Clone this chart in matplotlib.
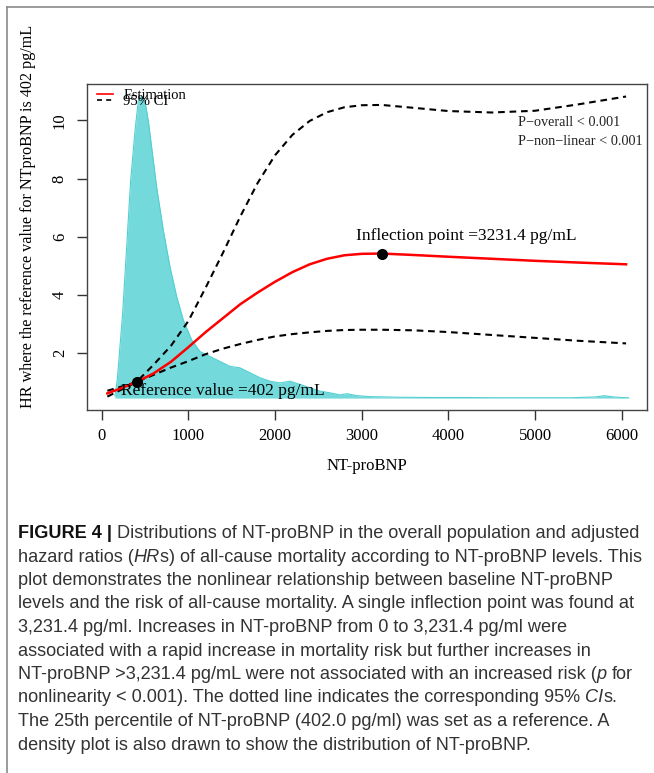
import matplotlib
matplotlib.use("Agg")
import matplotlib.pyplot as plt
from matplotlib.lines import Line2D

# 拟合曲线（HR）及 95% CI，x 为 NT-proBNP (pg/mL)
fit_x = [65, 200, 401, 600, 800, 1000, 1200, 1400, 1600, 1800, 2000, 2200,
         2400, 2600, 2800, 3000, 3231, 3600, 4000, 4500, 5000, 5500, 6050]
hr_est = [0.61, 0.76, 1.00, 1.30, 1.70, 2.20, 2.72, 3.20, 3.68, 4.08, 4.45, 4.78,
          5.05, 5.24, 5.36, 5.41, 5.42, 5.37, 5.31, 5.24, 5.17, 5.11, 5.05]
hr_upper = [0.70, 0.82, 1.00, 1.60, 2.25, 3.10, 4.25, 5.45, 6.70, 7.85, 8.80, 9.50,
            9.98, 10.28, 10.45, 10.52, 10.53, 10.43, 10.32, 10.27, 10.33, 10.55, 10.82]
hr_lower = [0.50, 0.70, 1.00, 1.25, 1.50, 1.72, 1.96, 2.15, 2.31, 2.45, 2.57, 2.65,
            2.71, 2.76, 2.79, 2.80, 2.80, 2.78, 2.72, 2.62, 2.52, 2.42, 2.33]

# 参考点和拐点
ref_x, ref_hr = 402, 1.0
infl_x, infl_hr = 3231.4, 5.42

# NT-proBNP 分布密度（已缩放到 HR 坐标）
dens_x = [153, 180, 242, 288, 334, 384, 422, 461, 499, 538, 577, 634, 711, 788,
          865, 941, 1038, 1134, 1249, 1364, 1480, 1595, 1711, 1826, 1941, 2057,
          2172, 2288, 2403, 2518, 2634, 2750, 2830, 2950, 3100, 3400, 3800, 4200,
          4600, 5000, 5400, 5700, 5800, 5900, 6000, 6080]
dens_y = [0.52, 1.09, 3.37, 5.64, 7.93, 9.63, 10.66, 10.83, 10.66, 9.98, 9.06,
          7.70, 6.22, 4.96, 3.94, 3.14, 2.45, 2.05, 1.88, 1.71, 1.54, 1.49, 1.32,
          1.15, 1.03, 0.97, 1.03, 0.92, 0.80, 0.69, 0.63, 0.56, 0.60, 0.53, 0.50,
          0.48, 0.47, 0.47, 0.46, 0.46, 0.46, 0.49, 0.53, 0.49, 0.47, 0.46]
dens_base = 0.45

x_ticks = [0, 1000, 2000, 3000, 4000, 5000, 6000]
y_ticks = [2, 4, 6, 8, 10]

caption = [
    [("FIGURE 4 | ", "b"), ("Distributions of NT-proBNP in the overall population and adjusted", "n")],
    [("hazard ratios (", "n"), ("HR", "i"), ("s) of all-cause mortality according to NT-proBNP levels. This", "n")],
    [("plot demonstrates the nonlinear relationship between baseline NT-proBNP", "n")],
    [("levels and the risk of all-cause mortality. A single inflection point was found at", "n")],
    [("3,231.4 pg/ml. Increases in NT-proBNP from 0 to 3,231.4 pg/ml were", "n")],
    [("associated with a rapid increase in mortality risk but further increases in", "n")],
    [("NT-proBNP >3,231.4 pg/mL were not associated with an increased risk (", "n"), ("p ", "i"), ("for", "n")],
    [("nonlinearity < 0.001). The dotted line indicates the corresponding 95% ", "n"), ("CI", "i"), ("s.", "n")],
    [("The 25th percentile of NT-proBNP (402.0 pg/ml) was set as a reference. A", "n")],
    [("density plot is also drawn to show the distribution of NT-proBNP.", "n")],
]

W, H = 654, 773
serif = ["Liberation Serif", "DejaVu Serif"]
cap_font = ["Liberation Sans Narrow", "Liberation Sans", "DejaVu Sans"]
cap_color = "#333333"

fig = plt.figure(figsize=(W / 100, H / 100), dpi=100)
ax = fig.add_axes([87.3 / W, 1 - 410 / H, (646.7 - 87.3) / W, (410 - 84) / H])

ax.fill_between(dens_x, dens_base, dens_y, color="#74d9db", lw=0, zorder=1)
ax.plot(dens_x, dens_y, color="#52cfd2", lw=0.8, zorder=1)

ax.plot(fit_x, hr_upper, color="black", lw=1.5, dashes=(3.2, 2.3), zorder=2)
ax.plot(fit_x, hr_lower, color="black", lw=1.5, dashes=(3.2, 2.3), zorder=2)
ax.plot(fit_x, hr_est, color="#ff0000", lw=1.8, zorder=3)
ax.plot([ref_x, infl_x], [ref_hr, infl_hr], "o", color="black", ms=7, zorder=4)

ax.text(219, 0.71, "Reference value =402 pg/mL", fontsize=12.5, family=serif,
        va="center", ha="left", zorder=5)
ax.text(2934, 6.03, "Inflection point =3231.4 pg/mL", fontsize=12.5, family=serif,
        va="center", ha="left", zorder=5)
ax.text(4807, 9.92, "P\u2212overall < 0.001", fontsize=10.3, family=serif,
        va="center", ha="left", color="#222222")
ax.text(4807, 9.26, "P\u2212non\u2212linear < 0.001", fontsize=10.3, family=serif,
        va="center", ha="left", color="#222222", clip_on=False)

handles = [Line2D([], [], color="#ff0000", lw=1.2),
           Line2D([], [], color="black", lw=1.2, dashes=(3, 2.5))]
leg = ax.legend(handles, ["Estimation", "95% CI"], loc="upper left",
                bbox_to_anchor=(0.012, 0.995), frameon=False, borderaxespad=0,
                borderpad=0.2, labelspacing=-0.48, handlelength=1.1,
                handletextpad=0.7, prop={"family": serif, "size": 10.5})
leg.set_zorder(6)

ax.set_xlim(-166, 6288)
ax.set_ylim(0.04, 11.25)
ax.set_xticks(x_ticks)
ax.set_xticklabels([str(v) for v in x_ticks], family=serif, fontsize=12)
ax.set_yticks(y_ticks)
ax.set_yticklabels([str(v) for v in y_ticks], family=serif, fontsize=12)
ax.tick_params(axis="x", length=7, width=1, pad=6, color="#333333")
ax.tick_params(axis="y", length=7, width=1, pad=7, color="#333333", labelrotation=90)
for lab in ax.get_yticklabels():
    lab.set_va("center")
for sp in ax.spines.values():
    sp.set_color("#444444")
    sp.set_linewidth(1)

ax.set_xlabel("NT-proBNP", family=serif, fontsize=12)
ax.xaxis.set_label_coords(0.5, (410 - 466) / (410 - 84))
ax.xaxis.label.set_va("center")
ax.set_ylabel("HR where the reference value for NTproBNP is 402 pg/mL", family=serif, fontsize=11.6)
ax.yaxis.set_label_coords((28 - 87.3) / (646.7 - 87.3), (410 - 216) / (410 - 84))
ax.yaxis.label.set_va("center")

# 页面边框（左、上）
fig.add_artist(Line2D([7 / W, 7 / W], [0, 1 - 7 / H], color="#8a8a8a", lw=1.2))
fig.add_artist(Line2D([7 / W, 1], [1 - 7 / H, 1 - 7 / H], color="#8a8a8a", lw=1.2))

# 图注：逐段绘制，以便混合粗体/斜体
ren = fig.canvas.get_renderer()


def style_kw(style, size):
    kw = dict(fontsize=size, family=cap_font, color=cap_color)
    if style == "b":
        kw["weight"] = "bold"
        kw["color"] = "#111111"
    elif style == "i":
        kw["style"] = "italic"
    return kw


def advance(s, style, size):
    a = fig.text(0, 0, "x" + s + "x", **style_kw(style, size))
    b = fig.text(0, 0, "xx", **style_kw(style, size))
    w = a.get_window_extent(ren).width - b.get_window_extent(ren).width
    a.remove()
    b.remove()
    return w


# 用第一行宽度确定字号
line1_w = sum(advance(s, st, 10) for s, st in caption[0])
cap_size = 10 * (643 - 18) / line1_w

x0 = 18
y_first, y_step = 538, 23.5
for i, runs in enumerate(caption):
    x = x0
    y = 1 - (y_first + i * y_step) / H
    for s, st in runs:
        fig.text(x / W, y, s, va="baseline", ha="left", **style_kw(st, cap_size))
        x += advance(s, st, cap_size)

fig.savefig("out.png", dpi=100)
